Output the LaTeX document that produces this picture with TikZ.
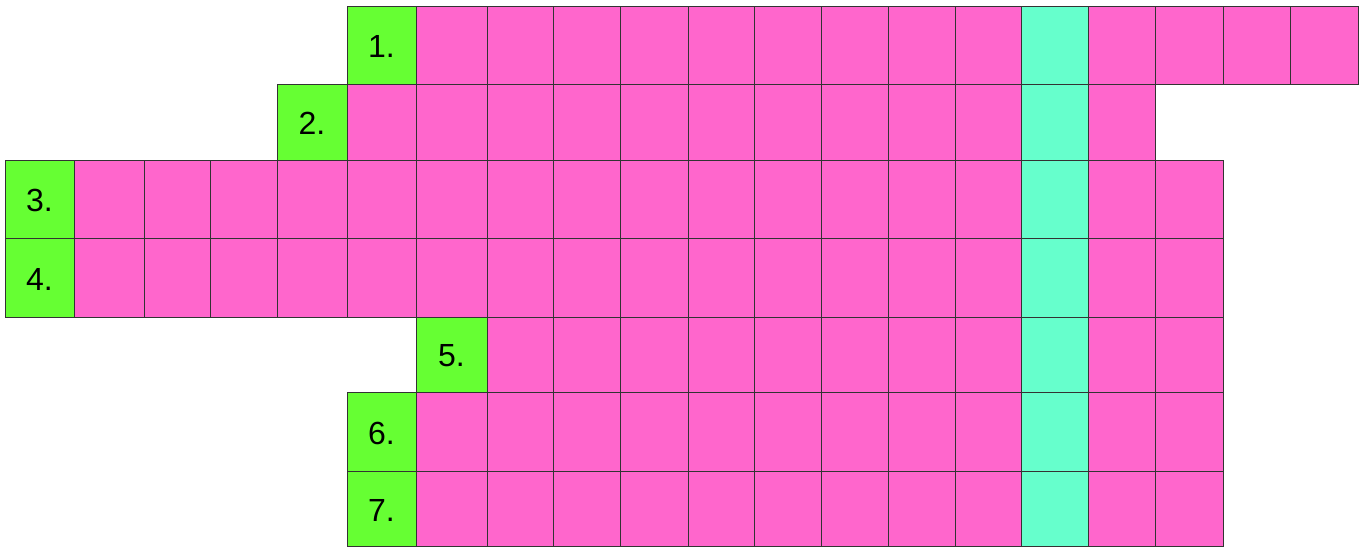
\documentclass[tikz,border=0pt]{standalone}
\usepackage{fontspec}
\setmainfont{Liberation Sans}
\definecolor{cellpink}{HTML}{FF66CC}
\definecolor{cellgreen}{HTML}{66FF33}
\definecolor{cellcyan}{HTML}{66FFCC}
\definecolor{gridline}{HTML}{333333}
\begin{document}
\begin{tikzpicture}[x=1pt,y=-1pt,
  cellbox/.style={draw=gridline,line width=0.9pt,inner sep=0pt,outer sep=0pt,anchor=north west},
  cluetext/.style={font=\fontsize{32}{32}\selectfont,text=black}]
\useasboundingbox[fill=white] (0,0) rectangle (1364,547);
\def\xs{{5,74,144,210,277,347,416,487,553,620,688,754,821,888,955,1021,1088,1155,1223,1290,1358}}
\def\ys{{6,84,160,238,317,392,471,546}}
\foreach \r/\g/\e/\lab in {0/5/19/1,1/4/16/2,2/0/17/3,3/0/17/4,4/6/17/5,5/5/17/6,6/5/17/7}{
  \pgfmathsetmacro\ya{\ys[\r]}
  \pgfmathsetmacro\yb{\ys[\r+1]}
  \foreach \c in {\g,...,\e}{
    \pgfmathsetmacro\xa{\xs[\c]}
    \pgfmathsetmacro\xb{\xs[\c+1]}
    \pgfmathsetmacro\cellw{\xb-\xa}
    \pgfmathsetmacro\cellh{\yb-\ya}
    \ifnum\c=\g
      \node[cellbox,fill=cellgreen,minimum width=\cellw pt,minimum height=\cellh pt] (c-\r-\c) at (\xa,\ya) {};
      \node[cluetext,yshift=-1.5pt] (clue\lab) at (c-\r-\c.center) {\lab.};
    \else\ifnum\c=15
      \node[cellbox,fill=cellcyan,minimum width=\cellw pt,minimum height=\cellh pt] (c-\r-\c) at (\xa,\ya) {};
    \else
      \node[cellbox,fill=cellpink,minimum width=\cellw pt,minimum height=\cellh pt] (c-\r-\c) at (\xa,\ya) {};
    \fi\fi
  }
}
\end{tikzpicture}
\end{document}
